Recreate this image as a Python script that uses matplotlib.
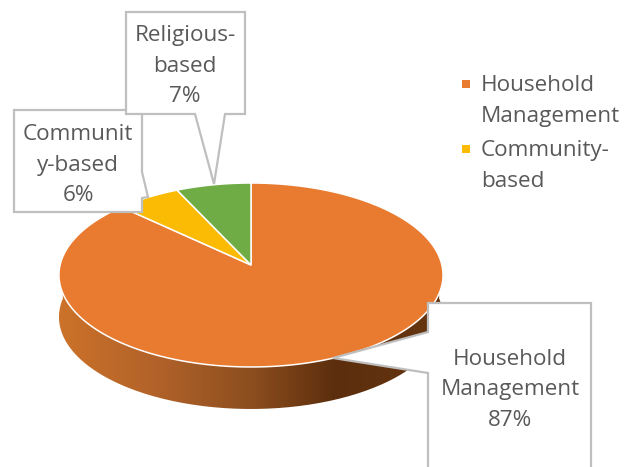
import numpy as np
import matplotlib
matplotlib.use("Agg")
import matplotlib.pyplot as plt
from matplotlib.colors import LinearSegmentedColormap
from matplotlib.patches import Polygon, PathPatch
from matplotlib.path import Path

# slices run clockwise from twelve o'clock
categories = ["Household Management", "Community-based", "Religious-based"]
values = [87, 6, 7]
colors = ["#E87B2F", "#FBBB05", "#6FAC46"]
callouts = ["Household\nManagement\n87%", "Communit\ny-based\n6%", "Religious-\nbased\n7%"]
legend_labels = ["Household\nManagement", "Community-\nbased"]
legend_colors = ["#E87B2F", "#FBBB05"]

W, H = 632, 467
GREY = "#BFBFBF"
TEXT = "#595959"
FONT = "Open Sans"
FSIZE = 16.2
SPACING = 1.62

# perspective of the pie disc, in pixels
cx, cy = 251, 265
a, b, k = 190.9, 90.9, 0.1087
depth = 42


def project(theta):
    u, v = np.sin(theta), np.cos(theta)
    d = 1 + k * v
    return cx + a * u / d, cy - b * v / d


fig = plt.figure(figsize=(W / 100, H / 100), dpi=100)
ax = fig.add_axes([0, 0, 1, 1])

# side wall, shaded left to right
t = np.linspace(np.pi * 0.47, np.pi * 1.53, 200)
rx, ry = project(t)
wall = np.vstack([np.c_[rx, ry], np.c_[rx[::-1], ry[::-1] + depth]])
shade = LinearSegmentedColormap.from_list(
    "wall",
    [(0, "#CC7229"), (0.25, "#B2622A"), (0.5, "#8C4E1E"), (0.72, "#5C2E0D"), (1, "#673610")],
)
grad = np.linspace(0, 1, 256).reshape(1, -1)
im = ax.imshow(grad, cmap=shade, extent=[59, 443, 409, 270], aspect="auto", zorder=1)
im.set_clip_path(PathPatch(Path(wall), transform=ax.transData))

# top of the pie
total = sum(values)
start = 0.0
for val, col in zip(values, colors):
    th = np.linspace(start, start + 2 * np.pi * val / total, 300)
    x, y = project(th)
    pts = np.vstack([[cx, cy], np.c_[x, y]])
    ax.add_patch(Polygon(pts, closed=True, facecolor=col, edgecolor="white", lw=1.1, zorder=2))
    start = th[-1]

# callout boxes
boxes = [
    [(428, 303), (591, 303), (591, 480), (428, 480), (428, 373), (333, 358), (428, 332)],
    [(14, 110), (142, 110), (142, 172), (148, 197), (142, 198), (142, 212), (14, 212)],
    [(126, 12), (245, 12), (245, 114), (225, 114), (214, 184), (195, 114), (126, 114)],
]
centers = [(510, 390), (78, 165), (185, 66)]
for pts, pos, txt in zip(boxes, centers, callouts):
    ax.add_patch(Polygon(pts, closed=True, facecolor="white", edgecolor=GREY, lw=1.6, zorder=3))
    ax.text(pos[0], pos[1], txt, ha="center", va="center", color=TEXT,
            fontsize=FSIZE, family=FONT, linespacing=SPACING, zorder=4)

# legend
for i, (lab, col) in enumerate(zip(legend_labels, legend_colors)):
    y0 = 84 + i * 65
    ax.scatter([466], [y0], marker="s", s=26, color=col, linewidths=0, zorder=4)
    ax.text(481, y0 + 17, lab, ha="left", va="center", color=TEXT,
            fontsize=FSIZE, family=FONT, linespacing=SPACING, zorder=4)

ax.set_xlim(0, W)
ax.set_ylim(H, 0)
ax.axis("off")
fig.savefig("out.png", dpi=100)
